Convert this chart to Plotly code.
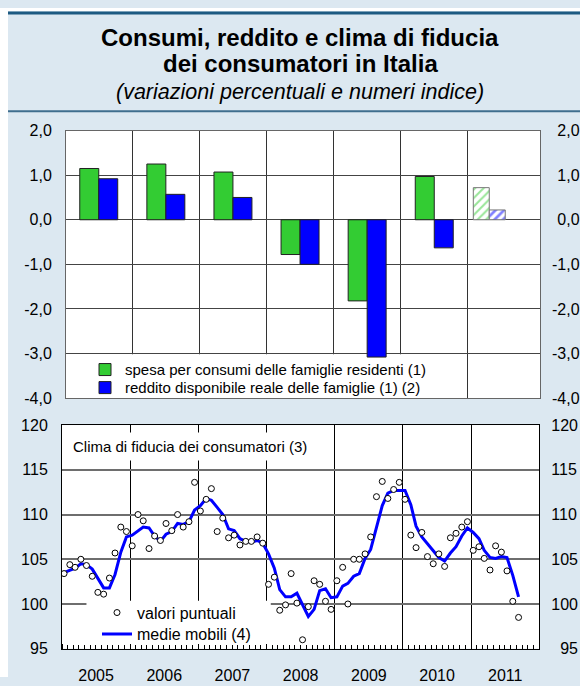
import plotly.graph_objects as go
import pandas as pd

W, H = 580, 686

# ---------------- data: top chart (percentage changes) ----------------
categories = ["2005", "2006", "2007", "2008", "2009", "2010", "2011"]
spesa_consumi = [1.15, 1.25, 1.07, -0.78, -1.82, 0.97, 0.72]
reddito_disponibile = [0.92, 0.57, 0.50, -1.00, -3.08, -0.63, 0.22]
is_estimate = [False, False, False, False, False, False, True]
top_tick_values = [-4, -3, -2, -1, 0, 1, 2]
top_tick_labels = ["-4,0", "-3,0", "-2,0", "-1,0", "0,0", "1,0", "2,0"]

# ---------------- data: bottom chart (consumer confidence) ----------------
start_month = "2005-01"
valori_puntuali = [
    103.4, 104.4, 104.1, 105.0, 104.3, 103.1, 101.3, 101.1, 102.9, 105.7, 108.6, 108.1,
    106.5, 110.0, 109.3, 106.2, 107.6, 107.1, 109.0, 108.2, 110.0, 108.6, 109.2, 113.6,
    110.4, 111.7, 112.9, 108.1, 109.6, 107.4, 107.7, 106.6, 107.0, 107.0, 107.5, 106.8,
    102.2, 103.0, 99.3, 99.9, 103.4, 100.1, 96.0, 99.7, 102.6, 102.2, 100.3, 99.4,
    102.6, 104.1, 100.0, 105.0, 105.0, 105.6, 107.5, 112.0, 113.7, 111.8, 112.8, 113.6,
    111.7, 107.7, 106.3, 108.0, 105.3, 104.5, 105.6, 104.2, 107.4, 107.9, 108.6, 109.2,
    106.0, 106.4, 105.1, 103.8, 106.5, 105.8, 103.7, 100.3, 98.5,
]
medie_mobili = [
    103.5, 103.8, 104.0, 104.5, 104.4, 103.9, 102.8, 101.8, 101.8, 103.3, 105.8, 107.5,
    107.7, 108.2, 108.6, 108.5, 107.6, 107.0, 107.8, 108.1, 109.0, 108.9, 109.2, 110.5,
    111.0, 111.8, 111.6, 110.8, 110.0, 108.4, 108.2, 107.3, 107.0, 106.9, 107.1, 106.8,
    105.6, 104.0, 101.6, 100.8, 100.8, 101.2, 99.9, 98.6, 99.4, 101.5, 101.7, 100.7,
    100.8, 102.0, 102.3, 103.1, 103.4, 105.1, 106.1, 108.5, 111.0, 112.4, 112.7, 112.7,
    112.7, 111.1, 108.7, 107.5, 106.7, 106.0, 105.2, 104.8, 105.7, 106.4, 107.6, 108.5,
    108.0, 107.3, 106.0, 105.2, 105.1, 105.3, 105.2, 103.2, 100.8,
]
bottom_tick_values = [95, 100, 105, 110, 115, 120]
bottom_tick_labels = ["95", "100", "105", "110", "115", "120"]

# monthly dates (plotted a little after the start of each month)
months = pd.date_range(start=start_month + "-01", periods=len(valori_puntuali), freq="MS") + pd.Timedelta(days=11)


def fx(px):
    return px / W


def fy(py):
    return 1 - py / H


GREEN = "#33cc33"
BLUE = "#0000ff"
FONT = "Liberation Sans, Arial, Helvetica, sans-serif"

fig = go.Figure()

# ---- top chart bars ----
xpos = list(range(len(categories)))
bar_w = [0.283 if not e else 0.238 for e in is_estimate]
off_green = [-0.283 if not e else -0.418 for e in is_estimate]
off_blue = [0.0 if not e else -0.18 for e in is_estimate]
pat = ["/" if e else "" for e in is_estimate]
edge = ["#777777" if e else "#222222" for e in is_estimate]

fig.add_trace(go.Bar(
    x=xpos, y=spesa_consumi, width=bar_w, offset=off_green,
    name="spesa per consumi delle famiglie residenti (1)",
    customdata=categories, hovertemplate="%{customdata}: %{y}<extra></extra>",
    marker=dict(color=GREEN, line=dict(color=edge, width=1),
                pattern=dict(shape=pat, fgcolor=GREEN, bgcolor="white", size=6, solidity=0.35)),
    xaxis="x", yaxis="y", legend="legend",
))
fig.add_trace(go.Bar(
    x=xpos, y=reddito_disponibile, width=bar_w, offset=off_blue,
    name="reddito disponibile reale delle famiglie (1) (2)",
    customdata=categories, hovertemplate="%{customdata}: %{y}<extra></extra>",
    marker=dict(color=BLUE, line=dict(color=edge, width=1),
                pattern=dict(shape=pat, fgcolor=BLUE, bgcolor="white", size=6, solidity=0.45)),
    xaxis="x", yaxis="y", legend="legend3",
))
# invisible companion so the right-hand axis is drawn
fig.add_trace(go.Scatter(
    x=xpos, y=spesa_consumi, mode="markers", marker=dict(opacity=0),
    xaxis="x", yaxis="y3", showlegend=False, hoverinfo="skip",
))

# ---- bottom chart ----
fig.add_trace(go.Scatter(
    x=months, y=medie_mobili, mode="lines", name="medie mobili (4)",
    line=dict(color=BLUE, width=3), xaxis="x2", yaxis="y2",
    legend="legend4",
))
fig.add_trace(go.Scatter(
    x=months, y=valori_puntuali, mode="markers", name="valori puntuali",
    marker=dict(symbol="circle", size=6, color="white", line=dict(color="black", width=1)),
    xaxis="x2", yaxis="y2", legend="legend2",
))
fig.add_trace(go.Scatter(
    x=months, y=valori_puntuali, mode="markers", marker=dict(opacity=0),
    xaxis="x2", yaxis="y4", showlegend=False, hoverinfo="skip",
))

right_top_labels = [t if t.startswith("-") else "\u2004" + t for t in top_tick_labels]
right_bottom_labels = [t if len(t) == 3 else "\u2007" + t for t in bottom_tick_labels]

tickfont = dict(size=16, color="black", family=FONT)


def legend_at(px, py, size):
    return dict(x=fx(px), y=fy(py), xanchor="left", yanchor="middle",
                bgcolor="rgba(0,0,0,0)", borderwidth=0,
                font=dict(size=size, color="black", family=FONT))


fig.update_layout(
    width=W, height=H,
    margin=dict(l=0, r=0, t=0, b=0),
    paper_bgcolor="#dce8f1",
    plot_bgcolor="white",
    font=dict(family=FONT, color="black"),
    barmode="overlay",
    hovermode="closest",
    xaxis=dict(
        domain=[fx(66), fx(540)], range=[-0.488, 6.576], anchor="y",
        tickmode="array", tickvals=[i + 0.5 for i in range(len(categories) - 1)],
        showticklabels=False, ticks="",
        showgrid=True, gridcolor="#333333", gridwidth=1,
        zeroline=False, showline=True, linecolor="#666666", linewidth=1, mirror=True,
    ),
    yaxis=dict(
        domain=[fy(400), fy(125.7)], range=[-4, 2], anchor="x",
        tickmode="array", tickvals=top_tick_values, ticktext=top_tick_labels,
        tickfont=tickfont, ticklabelstandoff=10,
        showgrid=True, gridcolor="#444444", gridwidth=1,
        zeroline=False, showline=True, linecolor="#666666", linewidth=1, mirror=True,
    ),
    yaxis3=dict(
        overlaying="y", side="right", anchor="x", range=[-4, 2],
        tickmode="array", tickvals=top_tick_values, ticktext=right_top_labels,
        tickfont=tickfont, ticklabelstandoff=11,
        showgrid=False, zeroline=False, showline=False,
    ),
    xaxis2=dict(
        domain=[fx(62), fx(539.3)], anchor="y2", type="date",
        range=["2005-01-01", "2012-01-01"],
        dtick="M12", tick0="2005-01-01", tickformat="%Y", ticklabelmode="period",
        ticks="inside", ticklen=5, tickcolor="black", tickfont=tickfont,
        ticklabelstandoff=12,
        minor=dict(dtick="M1", ticks="inside", ticklen=4, tickcolor="black", showgrid=False),
        showgrid=True, gridcolor="black", gridwidth=1,
        zeroline=False, showline=True, linecolor="black", linewidth=1, mirror=True,
    ),
    yaxis2=dict(
        domain=[fy(657), fy(427.7)], range=[95, 120], anchor="x2",
        tickmode="array", tickvals=bottom_tick_values, ticktext=bottom_tick_labels,
        tickfont=tickfont, ticklabelstandoff=10,
        showgrid=True, gridcolor="#6e6e6e", gridwidth=2,
        zeroline=False, showline=True, linecolor="black", linewidth=1, mirror=True,
    ),
    yaxis4=dict(
        overlaying="y2", side="right", anchor="x2", range=[95, 120],
        tickmode="array", tickvals=bottom_tick_values, ticktext=right_bottom_labels,
        tickfont=tickfont, ticklabelstandoff=11,
        showgrid=False, zeroline=False, showline=False,
    ),
    legend=legend_at(85, 371, 15),
    legend3=legend_at(85, 389.5, 15),
    legend2=legend_at(97, 620, 16),
    legend4=legend_at(97, 642, 16),
    shapes=[
        dict(type="rect", xref="paper", yref="paper", x0=0, x1=fx(8), y0=0, y1=1,
             fillcolor="white", line=dict(width=0), layer="below"),
        dict(type="rect", xref="paper", yref="paper", x0=0, x1=1, y0=fy(3), y1=1,
             fillcolor="white", line=dict(width=0), layer="below"),
        dict(type="line", xref="paper", yref="paper", x0=fx(8), x1=1, y0=fy(5), y1=fy(5),
             line=dict(color="#1d5a82", width=3)),
        dict(type="line", xref="paper", yref="paper", x0=fx(8), x1=1, y0=fy(106), y1=fy(106),
             line=dict(color="#3f6e8e", width=2)),
        # white areas behind the legends hide the grid there
        dict(type="rect", xref="x", yref="y", x0=-0.488, x1=5.485, y0=-4, y1=-3.015,
             fillcolor="white", line=dict(width=0), layer="between"),
        dict(type="rect", xref="x2", yref="y2", x0="2005-05-12", x1="2008-01-24", y0=95, y1=100.35,
             fillcolor="white", line=dict(width=0), layer="between"),
    ],
    annotations=[
        dict(text="<b>Consumi, reddito e clima di fiducia</b>", xref="paper", yref="paper",
             x=fx(300), y=fy(30), xanchor="center", yanchor="middle", showarrow=False,
             font=dict(size=24, color="black", family=FONT)),
        dict(text="<b>dei consumatori in Italia</b>", xref="paper", yref="paper",
             x=fx(300), y=fy(57), xanchor="center", yanchor="middle", showarrow=False,
             font=dict(size=24, color="black", family=FONT)),
        dict(text="<i>(variazioni percentuali e numeri indice)</i>", xref="paper", yref="paper",
             x=fx(300), y=fy(86.5), xanchor="center", yanchor="middle", showarrow=False,
             font=dict(size=21.5, color="black", family=FONT)),
        dict(text="Clima di fiducia dei consumatori (3)", xref="paper", yref="paper",
             x=fx(66.5), y=fy(450), xanchor="left", yanchor="middle", showarrow=False,
             bgcolor="white", borderpad=5,
             font=dict(size=15, color="black", family=FONT)),
    ],
)

fig.write_html("out.html", config={"displayModeBar": False},
               post_script="document.body.style.margin='0px';")
